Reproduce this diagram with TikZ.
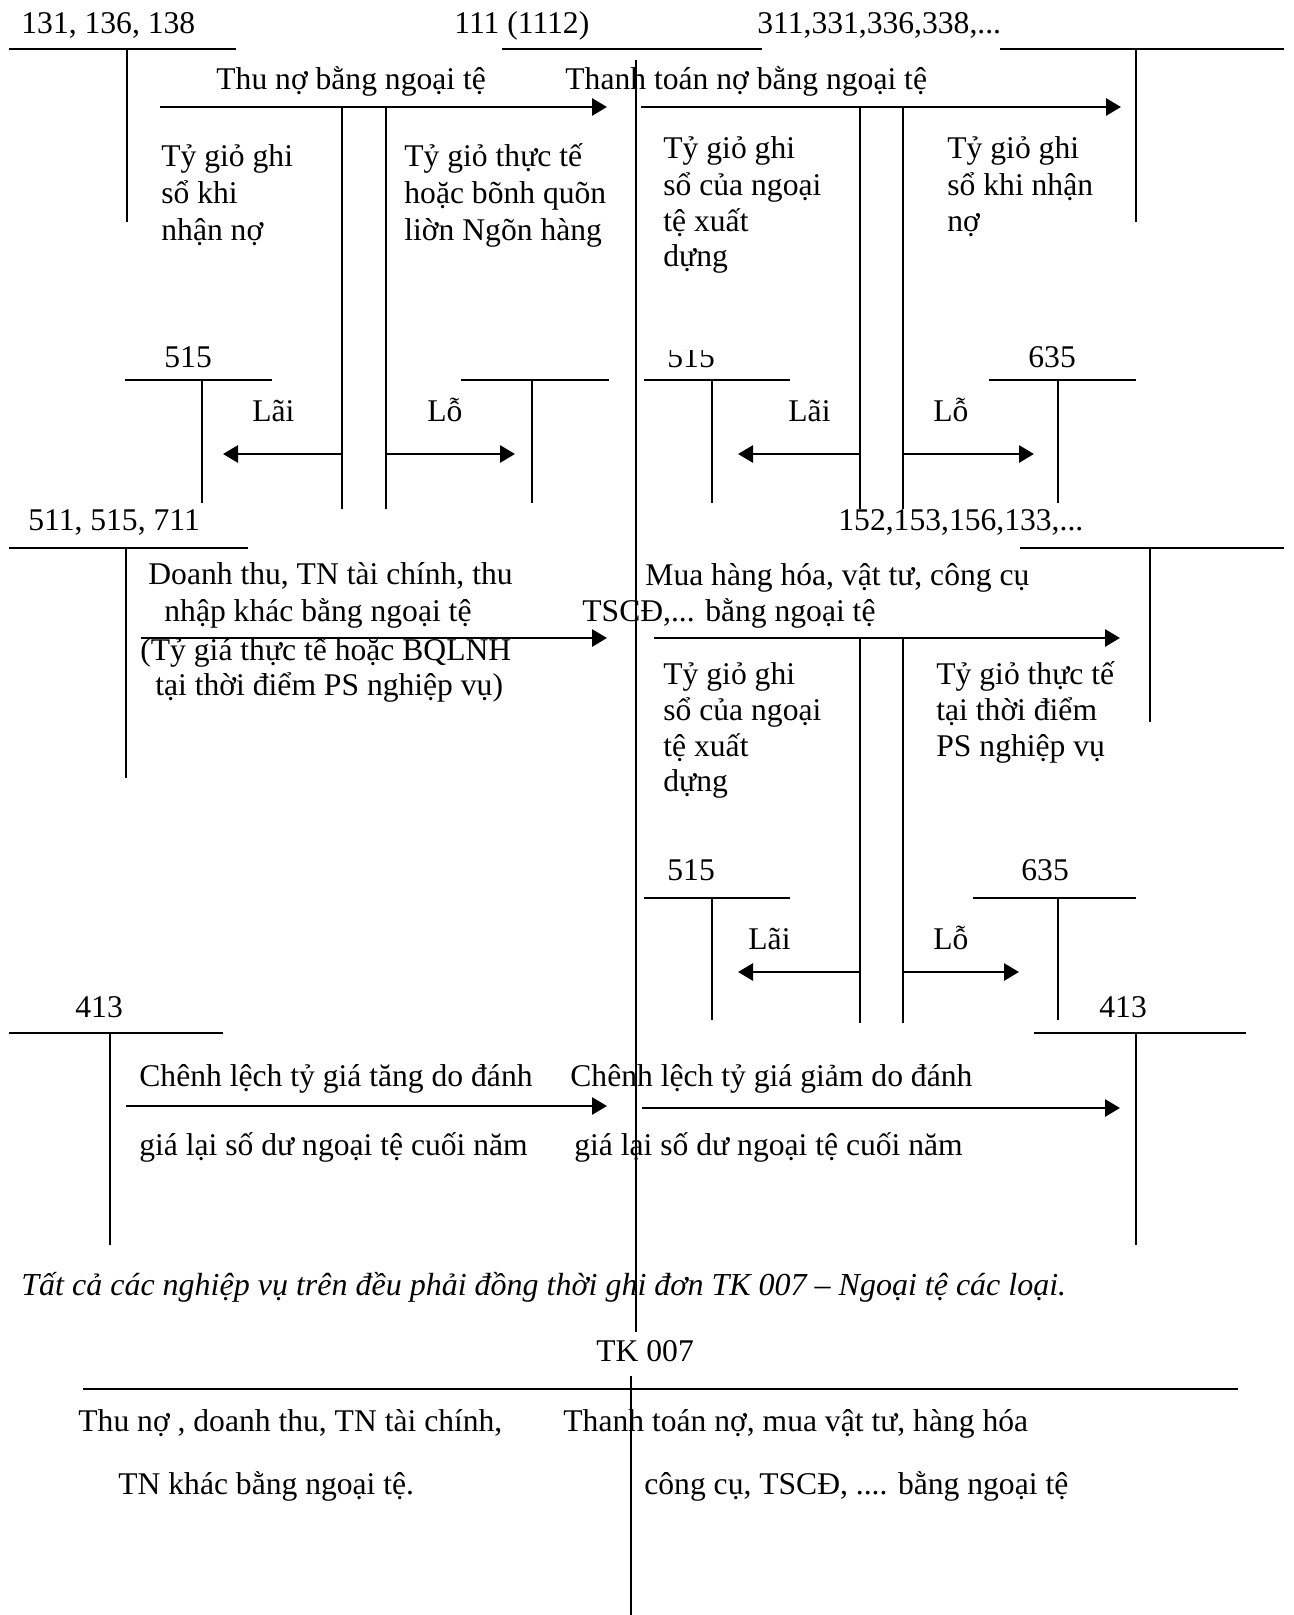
\documentclass[tikz,border=0pt]{standalone}
\usepackage{fontspec}
\setmainfont{Liberation Serif}
\usetikzlibrary{arrows.meta}
\begin{document}
\begin{tikzpicture}[x=0.5pt,y=-0.5pt,
  txt/.style={anchor=west, inner sep=0pt, font=\fontsize{15.8}{19}\selectfont, text height=0.7em, text depth=0.22em, yshift=-2.5pt},
  num/.style={txt, yshift=-0.5pt},
  tline/.style={line width=0.75pt},
  thick line/.style={line width=1.3pt},
  arr/.style={line width=1.4pt, -{Triangle[length=7.5pt,width=8.5pt]}},
]
\useasboundingbox (0,0) rectangle (1294,1615);

% ---------- account titles ----------
\node[num] (n131) at (21,23) {131, 136, 138};
\node[num] (n111) at (454,23) {111 (1112)};
\node[num] (n311) at (757,23) {311,331,336,338,...};

% T-accounts top
\draw[tline] (9,49) -- (236,49);
\draw[tline] (127,49) -- (127,222);
\draw[tline] (502,49) -- (762,49);
\draw[tline] (636,60) -- (636,1332);
\draw[tline] (1000,49) -- (1284,49);
\draw[tline] (1136,49) -- (1136,222);

% arrows row 1
\coordinate (a1s) at (160,107); \coordinate (a1e) at (607,107);
\draw[arr] (a1s) -- (a1e);
\coordinate (a2s) at (641,107); \coordinate (a2e) at (1121,107);
\draw[arr] (a2s) -- (a2e);
\node[txt] (thuno) at (216,80) {Thu nợ bằng ngoại tệ};
\node[txt] (thanhtoan) at (565,80) {Thanh toán nợ bằng ngoại tệ};

% double verticals row 1
\draw[tline] (342,107) -- (342,509);
\draw[tline] (386,107) -- (386,509);
\draw[tline] (860,107) -- (860,509);
\draw[tline] (903,107) -- (903,509);

\node[txt] (l1a) at (161,157) {Tỷ giỏ ghi};
\node[txt] (l1b) at (161,194) {sổ khi};
\node[txt] (l1c) at (161,231) {nhận nợ};
\node[txt] (l2a) at (404,157) {Tỷ giỏ thực tế};
\node[txt] (l2b) at (404,194) {hoặc bõnh quõn};
\node[txt] (l2c) at (404,231) {liờn Ngõn hàng};
\node[txt] (l3a) at (663,149) {Tỷ giỏ ghi};
\node[txt] (l3b) at (663,186) {sổ của ngoại};
\node[txt] (l3c) at (663,222) {tệ xuất};
\node[txt] (l3d) at (663,257) {dựng};
\node[txt] (l4a) at (947,149) {Tỷ giỏ ghi};
\node[txt] (l4b) at (947,186) {sổ khi nhận};
\node[txt] (l4c) at (947,222) {nợ};

% row 1 small T accounts
\node[num] (n515a) at (164,357) {515};
\draw[tline] (125,380) -- (272,380);
\draw[tline] (202,380) -- (202,503);
\draw[tline] (461,380) -- (609,380);
\draw[tline] (532,380) -- (532,503);
\begin{scope}
  \clip (640,351) rectangle (740,380);
  \node[num] (n515b) at (667,357) {515};
\end{scope}
\draw[tline] (644,380) -- (790,380);
\draw[tline] (712,380) -- (712,503);
\node[num] (n635a) at (1028,357) {635};
\draw[tline] (989,380) -- (1136,380);
\draw[tline] (1058,380) -- (1058,503);

\node[txt] (lai1) at (252,412) {Lãi};
\node[txt] (lo1) at (427,412) {Lỗ};
\node[txt] (lai2) at (788,412) {Lãi};
\node[txt] (lo2) at (933,412) {Lỗ};
\coordinate (b1s) at (342,454); \coordinate (b1e) at (223,454);
\coordinate (b2s) at (386,454); \coordinate (b2e) at (515,454);
\coordinate (b3s) at (860,454); \coordinate (b3e) at (738,454);
\coordinate (b4s) at (903,454); \coordinate (b4e) at (1034,454);
\draw[arr] (b1s) -- (b1e);
\draw[arr] (b2s) -- (b2e);
\draw[arr] (b3s) -- (b3e);
\draw[arr] (b4s) -- (b4e);

% ---------- second block ----------
\node[num] (n511) at (28,520) {511, 515, 711};
\draw[tline] (9,548) -- (248,548);
\draw[tline] (126,548) -- (126,778);
\node[num] (n152) at (838,520) {152,153,156,133,...};
\draw[tline] (1020,548) -- (1284,548);
\draw[tline] (1150,548) -- (1150,722);

\node[txt] (d1) at (148,575) {Doanh thu, TN tài chính, thu};
\node[txt] (d2) at (164,612) {nhập khác bằng ngoại tệ};
\node[txt] (d3) at (140,651) {(Tỷ giá thực tế hoặc BQLNH};
\node[txt] (d4) at (155,686) {tại thời điểm PS nghiệp vụ)};
\coordinate (a3s) at (141,638); \coordinate (a3e) at (607,638);
\draw[arr] (a3s) -- (a3e);

\node[txt] (m1) at (645,576) {Mua hàng hóa, vật tư, công cụ};
\node[txt] (m2) at (582,612) {TSCĐ,... bằng ngoại tệ};
\coordinate (a4s) at (654,638); \coordinate (a4e) at (1120,638);
\draw[arr] (a4s) -- (a4e);
\draw[tline] (860,638) -- (860,1023);
\draw[tline] (903,638) -- (903,1023);

\node[txt] (l5a) at (663,675) {Tỷ giỏ ghi};
\node[txt] (l5b) at (663,711) {sổ của ngoại};
\node[txt] (l5c) at (663,747) {tệ xuất};
\node[txt] (l5d) at (663,782) {dựng};
\node[txt] (l6a) at (936,675) {Tỷ giỏ thực tế};
\node[txt] (l6b) at (936,711) {tại thời điểm};
\node[txt] (l6c) at (936,747) {PS nghiệp vụ};

\node[num] (n515c) at (667,870) {515};
\draw[tline] (644,898) -- (790,898);
\draw[tline] (712,898) -- (712,1020);
\node[num] (n635b) at (1021,870) {635};
\draw[tline] (973,898) -- (1136,898);
\draw[tline] (1058,898) -- (1058,1020);
\node[txt] (lai3) at (748,940) {Lãi};
\node[txt] (lo3) at (933,940) {Lỗ};
\coordinate (b5s) at (860,972); \coordinate (b5e) at (738,972);
\coordinate (b6s) at (903,972); \coordinate (b6e) at (1019,972);
\draw[arr] (b5s) -- (b5e);
\draw[arr] (b6s) -- (b6e);

% ---------- 413 block ----------
\node[num] (n413a) at (75,1007) {413};
\draw[tline] (9,1033) -- (223,1033);
\draw[tline] (110,1033) -- (110,1245);
\node[num] (n413b) at (1099,1007) {413};
\draw[tline] (1034,1033) -- (1246,1033);
\draw[tline] (1136,1033) -- (1136,1245);

\node[txt] (c1) at (139,1077) {Chênh lệch tỷ giá tăng do đánh};
\node[txt] (c2) at (139,1146) {giá lại số dư ngoại tệ cuối năm};
\node[txt] (c3) at (570,1077) {Chênh lệch tỷ giá giảm do đánh};
\node[txt] (c4) at (574,1146) {giá lại số dư ngoại tệ cuối năm};
\coordinate (a5s) at (126,1106); \coordinate (a5e) at (607,1106);
\coordinate (a6s) at (642,1108); \coordinate (a6e) at (1120,1108);
\draw[arr] (a5s) -- (a5e);
\draw[arr] (a6s) -- (a6e);

% ---------- note and TK 007 ----------
\node[txt, font=\fontsize{16}{19}\selectfont\itshape] (note) at (21,1286)
  {Tất cả các nghiệp vụ trên đều phải đồng thời ghi đơn TK 007 – Ngoại tệ các loại.};
\node[num] (tk007) at (596,1351) {TK 007};
\draw[thick line] (83,1389) -- (1238,1389);
\draw[tline] (631,1376) -- (631,1615);
\node[txt] (e1) at (78,1422) {Thu nợ , doanh thu, TN tài chính,};
\node[txt] (e2) at (563,1422) {Thanh toán nợ, mua vật tư, hàng hóa};
\node[txt] (e3) at (118,1485) {TN khác bằng ngoại tệ.};
\node[txt] (e4) at (644,1485) {công cụ, TSCĐ, .... bằng ngoại tệ};
\end{tikzpicture}
\end{document}
